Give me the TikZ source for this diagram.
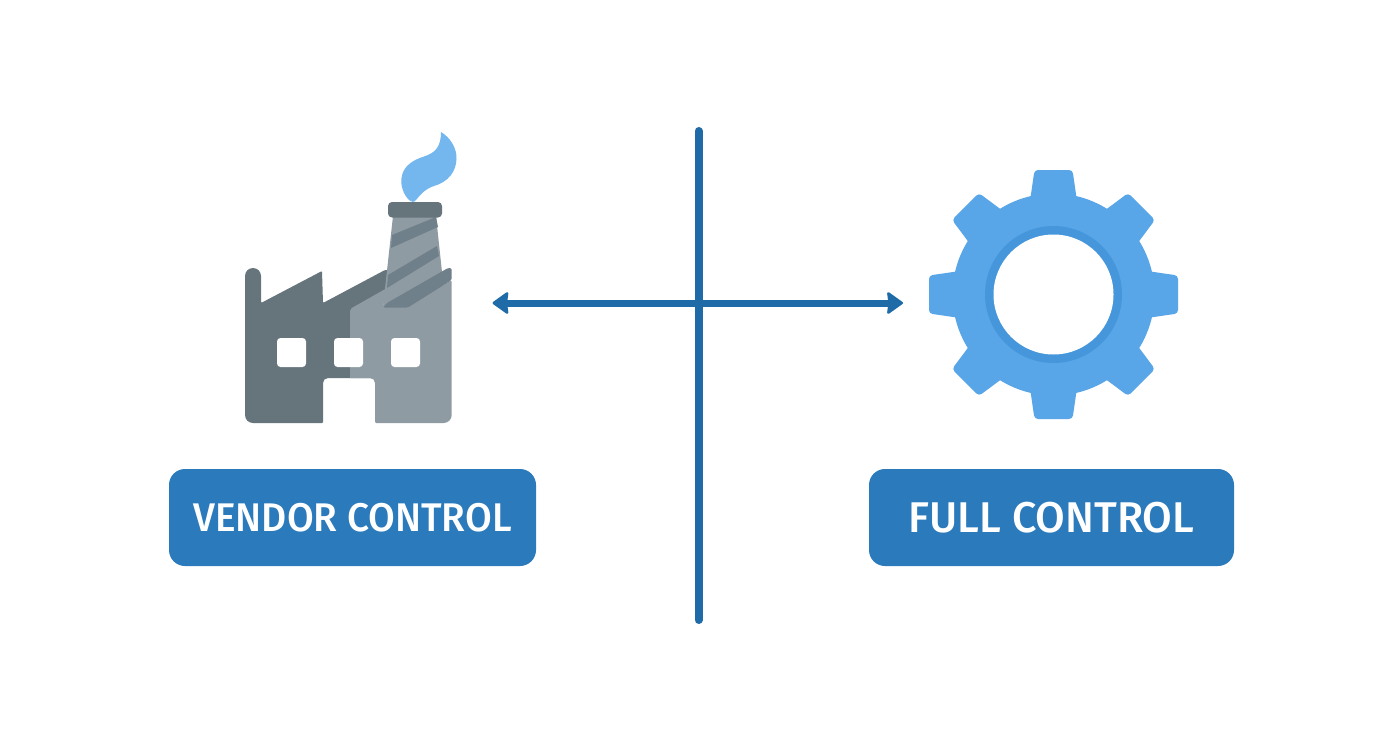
\documentclass[tikz,border=0pt]{standalone}
\usepackage{fontspec}
\usetikzlibrary{arrows.meta}
\newfontfamily\labfont[FakeStretch=0.97]{Fira Sans Medium}
\newfontfamily\labfontwide[FakeStretch=1.0]{Fira Sans Medium}
\definecolor{linecol}{HTML}{1F6BA8}
\definecolor{btncol}{HTML}{2A7ABC}
\definecolor{geardark}{HTML}{4596DA}
\definecolor{gearcol}{HTML}{58A6E8}
\definecolor{flamecol}{HTML}{74B6EE}
\definecolor{factdark}{HTML}{66747C}
\definecolor{factlight}{HTML}{8F9BA3}
\definecolor{factmid}{HTML}{70808A}
\tikzset{
  labelbox/.style={fill=btncol,rounded corners=16pt,minimum height=97pt,inner sep=0pt,text=white},
  windowbox/.style={fill=white,rounded corners=3.5pt,minimum size=29pt,inner sep=0pt},
  axisline/.style={draw=linecol,line width=8pt,line cap=round},
  arrowline/.style={draw=linecol,line width=7pt,{Stealth[length=17pt,width=24pt,inset=1.5pt,round,line width=2.5pt]}-{Stealth[length=17pt,width=24pt,inset=1.5pt,round,line width=2.5pt]}}
}
\begin{document}
\begin{tikzpicture}[x=1pt,y=-1pt]
\useasboundingbox[fill=white] (0,0) rectangle (1392,752);
% connectors
\coordinate (axisTop) at (698.5,131);
\coordinate (axisBottom) at (698.5,620);
\coordinate (arrowLeft) at (492.5,303);
\coordinate (arrowRight) at (903,303);
\draw[axisline] (axisTop) -- (axisBottom);
\draw[arrowline] (arrowLeft) -- (arrowRight);
% factory silhouette
\fill[factdark] [rounded corners=8pt] (245,320) -- (245,268) -- (261,268)
  [rounded corners=1pt] -- (261,303) -- (322,271) -- (323,303) -- (385,270) -- (400,270) -- (400,300)
  -- (375,300) -- (375,378) [rounded corners=5pt] -- (323,378) [rounded corners=1pt] -- (323,423)
  [rounded corners=8pt] -- (245,423) -- cycle;
% chimney body
\fill[factlight] (393,216) -- (436,216) -- (442,272) -- (442,300) -- (383,307) -- cycle;
% light part of factory
\fill[factlight] [rounded corners=2pt] (350,378) -- (350,309) -- (387,288) -- (383,307) -- (408,307)
  -- (451.7,280) [rounded corners=8pt] -- (451.7,423) [rounded corners=1pt] -- (375,423)
  [rounded corners=5pt] -- (375,378) [rounded corners=0pt] -- cycle;
% chimney stripes and roof band
\fill[factmid] (392,235) -- (436,217) -- (438,227) -- (391,248) -- cycle;
\fill[factmid] (388,275) -- (437,246) -- (439,256) -- (387,288) -- cycle;
\fill[factmid] [rounded corners=1.5pt] (387,303) -- (448,268) -- (451.7,268) -- (451.7,280) -- (408,307.5) -- (383,307.5) -- cycle;
% chimney cap
\fill[factdark] [rounded corners=4pt] (388,202) -- (442,202) -- (442,217.5) -- (388,217.5) -- cycle;
% flame
\fill[flamecol] (441,132) .. controls (451,138) and (457,149) .. (456.5,159)
  .. controls (456,172) and (448,182) .. (434,186)
  .. controls (425,189) and (420,195) .. (416,200)
  .. controls (414,203) and (411,202) .. (409,200)
  .. controls (403,194) and (400.5,185) .. (401.5,178)
  .. controls (403,166) and (413,160) .. (424,156.5)
  .. controls (435,153) and (441,147) .. (441,132) -- cycle;
% windows
\node[windowbox] (win1) at (291.5,352.5) {};
\node[windowbox] (win2) at (348.5,352.5) {};
\node[windowbox] (win3) at (405.5,352.5) {};
% gear
\begin{scope}[shift={(1053.5,294.5)}]
  \foreach \a in {0,45,...,315}{
    \fill[gearcol,rotate=\a,rounded corners=3.5pt] (-24,-90) -- (-19,-124.5) -- (19,-124.5) -- (24,-90) -- cycle;
  }
  \fill[gearcol] (0,0) circle[radius=101];
  \fill[geardark] (0,0) circle[radius=68.5];
  \fill[white] (0,0) circle[radius=60];
\end{scope}
% labels
\node[labelbox,minimum width=367pt,font=\labfont\fontsize{40}{40}\selectfont] (vendor) at (352.5,517.5) {\raisebox{-1.5pt}{VENDOR CONTROL}};
\node[labelbox,minimum width=365pt,font=\labfontwide\fontsize{43}{43}\selectfont] (full) at (1051.5,517.5) {\raisebox{-1.5pt}{FULL CONTROL}};
\end{tikzpicture}
\end{document}
